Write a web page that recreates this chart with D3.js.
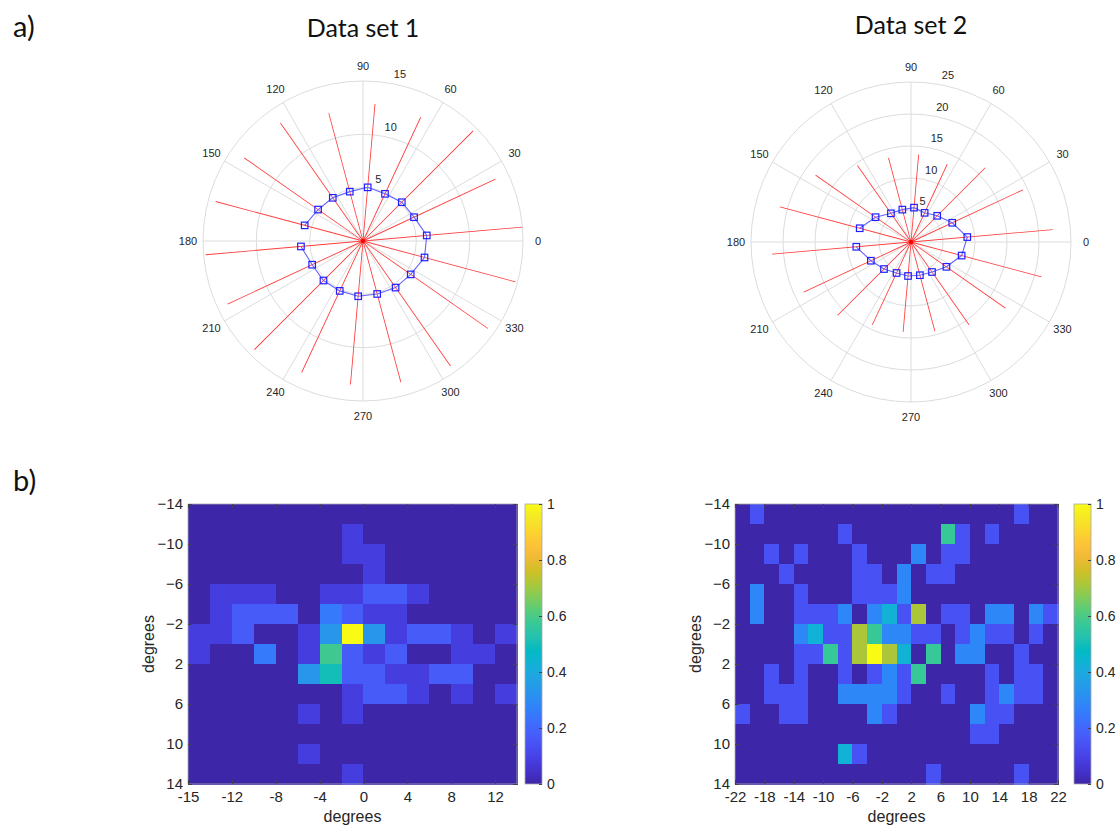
<!DOCTYPE html>
<html>
<head>
<meta charset="utf-8">
<script src="https://cdn.jsdelivr.net/npm/d3@7"></script>
<style>
body { margin: 0; background: #fff; }
text { font-family: "Liberation Sans", Arial, sans-serif; fill: #262626; }
.big { font-family: Lato, "Open Sans", sans-serif; fill: #111; }
</style>
</head>
<body>
<svg id="chart" width="1119" height="827"></svg>
<script>
// ---- polar data (angle in degrees, starting at 185 so the gap sits between 165 and 185)
var polarAngles = [185, 205, 225, 245, 265, 285, 305, 325, 345, 5, 25, 45, 65, 85, 105, 125, 145, 165];
var red1  = [14.8, 14.0, 14.4, 13.6, 13.5, 13.7, 14.3, 14.3, 14.8, 15.0, 13.7, 14.6, 12.8, 12.9, 12.4, 13.5, 13.6, 14.3];
var blue1 = [5.84, 5.26, 5.24, 5.16, 5.20, 5.14, 5.33, 5.46, 5.97, 6.00, 5.28, 5.14, 4.88, 5.05, 4.79, 4.94, 5.14, 5.66];
var red2  = [21.8, 18.5, 16.2, 14.3, 14.1, 14.4, 15.8, 18.0, 21.1, 22.2, 19.3, 16.4, 13.4, 13.7, 13.6, 14.6, 18.2, 21.2];
var blue2 = [8.58, 6.92, 5.97, 5.34, 5.33, 5.37, 5.72, 6.76, 8.19, 8.83, 7.11, 5.79, 5.03, 5.39, 5.24, 5.47, 6.76, 8.30];
var thetaTicks = [0, 30, 60, 90, 120, 150, 180, 210, 240, 270, 300, 330];
var rTicks1 = [5, 10, 15];
var rTicks2 = [5, 10, 15, 20, 25];

// ---- heat map data (counts, rows from top y=-14 downwards, 2 degree bins)
var heat1 = [
  [0,0,0,0,0,0,0,0,0,0,0,0,0,0,0],
  [0,0,0,0,0,0,0,1,0,0,0,0,0,0,0],
  [0,0,0,0,0,0,0,1,1,0,0,0,0,0,0],
  [0,0,0,0,0,0,0,0,1,0,0,0,0,0,0],
  [0,1,1,1,0,0,1,1,2,2,1,0,0,0,0],
  [0,1,2,2,2,0,3,2,1,1,0,0,0,0,0],
  [1,1,2,0,0,1,4,12,4,1,2,2,1,0,1],
  [1,0,0,3,0,1,7,2,1,2,0,0,1,1,0],
  [0,0,0,0,0,4,6,2,2,1,1,2,2,0,0],
  [0,0,0,0,0,0,0,1,2,2,1,0,1,0,1],
  [0,0,0,0,0,1,0,1,0,0,0,0,0,0,0],
  [0,0,0,0,0,0,0,0,0,0,0,0,0,0,0],
  [0,0,0,0,0,1,0,0,0,0,0,0,0,0,0],
  [0,0,0,0,0,0,0,1,0,0,0,0,0,0,0]
];
var heat2 = [
  [0,1,0,0,0,0,0,0,0,0,0,0,0,0,0,0,0,0,0,1,0,0],
  [0,0,0,0,0,0,0,1,0,0,0,0,0,0,4,1,0,1,0,0,0,0],
  [0,0,1,0,1,0,0,0,1,0,0,0,2,0,1,1,0,0,0,0,0,0],
  [0,0,0,1,0,0,0,0,1,1,0,2,0,1,1,0,0,0,0,0,0,0],
  [0,2,0,0,1,0,0,0,1,1,1,2,0,0,0,0,0,0,0,0,0,0],
  [0,2,0,0,1,1,1,2,0,2,3,1,5,0,1,1,0,2,2,0,2,1],
  [0,0,0,0,2,3,1,1,5,4,2,2,1,1,0,1,2,1,1,0,1,0],
  [0,0,0,0,1,1,4,1,5,7,5,3,0,4,0,2,2,0,0,1,0,0],
  [0,0,1,0,1,0,0,1,0,1,2,1,4,0,0,0,0,1,0,1,1,0],
  [0,0,1,1,1,0,0,2,2,2,2,1,0,0,1,0,0,1,2,1,1,0],
  [1,0,0,1,1,0,0,0,0,2,1,0,0,0,0,0,2,1,1,0,0,0],
  [0,0,0,0,0,0,0,0,0,0,0,0,0,0,0,0,1,1,0,0,0,0],
  [0,0,0,0,0,0,0,3,1,0,0,0,0,0,0,0,0,0,0,0,0,0],
  [0,0,0,0,0,0,0,0,0,0,0,0,0,1,0,0,0,0,0,1,0,0]
];
var xTickLabels1 = ["-15", "-12", "-8", "-4", "0", "4", "8", "12"];   // placed on bin edges 0,2,..,14
var xTicks2 = [-22, -18, -14, -10, -6, -2, 2, 6, 10, 14, 18, 22];
var yTicks = [-14, -10, -6, -2, 2, 6, 10, 14];
var cbTicks = [0, 0.2, 0.4, 0.6, 0.8, 1];

// parula (every 3rd entry of the 64 colour table)
var parula = ["#3e26a8","#4432cb","#4741e5","#4852f4","#4563fd","#3875fe","#2e87f7","#2796eb",
              "#20a5e3","#12b1d6","#02bac3","#24c1ae","#37c897","#57cc7a","#81cc59","#abc739",
              "#d1bf27","#f0ba36","#fec338","#fad62d","#f5e924","#f9fb15"];
var colour = d3.scaleLinear()
    .domain(parula.map(function(d, i) { return i / (parula.length - 1); }))
    .range(parula);

var svg = d3.select("#chart");
var defs = svg.append("defs");

// panel letters
svg.append("text").attr("class", "big").attr("x", 13).attr("y", 37).style("font-size", "29px").text("a)");
svg.append("text").attr("class", "big").attr("x", 13).attr("y", 491).style("font-size", "29px").text("b)");

function drawPolar(cx, cy, rMax, rTicks, redLen, blueLen, title, titleY)
{
    var R = 160;
    var r = d3.scaleLinear().domain([0, rMax]).range([0, R]);
    var rad = function(a) { return a * Math.PI / 180; };
    var px = function(a, v) { return cx + r(v) * Math.cos(rad(a)); };
    var py = function(a, v) { return cy - r(v) * Math.sin(rad(a)); };

    svg.append("text").attr("class", "big")
        .attr("x", cx).attr("y", titleY)
        .attr("text-anchor", "middle")
        .style("font-size", "25px")
        .text(title);

    var g = svg.append("g");

    g.selectAll("circle.ring").data(rTicks).enter().append("circle")
        .attr("class", "ring")
        .attr("cx", cx).attr("cy", cy)
        .attr("r", function(d) { return r(d); })
        .attr("fill", "none")
        .attr("stroke", "#dcdcdc")
        .attr("stroke-width", 1);

    g.selectAll("line.spoke").data(thetaTicks).enter().append("line")
        .attr("class", "spoke")
        .attr("x1", cx).attr("y1", cy)
        .attr("x2", function(d) { return px(d, rMax); })
        .attr("y2", function(d) { return py(d, rMax); })
        .attr("stroke", "#dcdcdc")
        .attr("stroke-width", 1);

    g.selectAll("text.tlab").data(thetaTicks).enter().append("text")
        .attr("class", "tlab")
        .attr("x", function(d) { return cx + (R + 15) * Math.cos(rad(d)); })
        .attr("y", function(d) { return cy - (R + 15) * Math.sin(rad(d)); })
        .attr("dy", "0.35em")
        .attr("text-anchor", "middle")
        .style("font-size", "11px")
        .text(function(d) { return d; });

    g.selectAll("text.rlab").data(rTicks).enter().append("text")
        .attr("class", "rlab")
        .attr("x", function(d) { return px(80, d) + 3; })
        .attr("y", function(d) { return py(80, d) - 5; })
        .style("font-size", "11px")
        .text(function(d) { return d; });

    // red rays from the origin, drawn as thin filled quads
    // (stroked diagonals came out black in the renderer)
    g.selectAll("polygon.ray").data(polarAngles).enter().append("polygon")
        .attr("class", "ray")
        .attr("points", function(a, i) {
            var nx = 0.42 * Math.sin(rad(a)), ny = 0.42 * Math.cos(rad(a));
            var ex = px(a, redLen[i]), ey = py(a, redLen[i]);
            return [[cx + nx, cy + ny], [ex + nx, ey + ny], [ex - nx, ey - ny], [cx - nx, cy - ny]]
                .map(function(p) { return p[0].toFixed(2) + "," + p[1].toFixed(2); }).join(" ");
        })
        .attr("fill", "#ff3b3b")
        .attr("stroke", "none");

    g.append("circle").attr("cx", cx).attr("cy", cy).attr("r", 2.2).attr("fill", "#ff0000");

    var line = d3.line()
        .x(function(d, i) { return px(polarAngles[i], d); })
        .y(function(d, i) { return py(polarAngles[i], d); });

    g.append("path").datum(blueLen)
        .attr("d", line)
        .attr("fill", "none")
        .attr("stroke", "#6464ff")
        .attr("stroke-width", 1.1);

    g.selectAll("rect.mk").data(blueLen).enter().append("rect")
        .attr("class", "mk")
        .attr("x", function(d, i) { return px(polarAngles[i], d) - 3.25; })
        .attr("y", function(d, i) { return py(polarAngles[i], d) - 3.25; })
        .attr("width", 6.5).attr("height", 6.5)
        .attr("fill", "none")
        .attr("stroke", "#1f1fff")
        .attr("stroke-width", 1.2);
}

drawPolar(363, 241, 15, rTicks1, red1, blue1, "Data set 1", 37);
drawPolar(911, 242, 25, rTicks2, red2, blue2, "Data set 2", 34);

function drawHeat(left, right, counts, xScale, cellX, cellW, xTickVals, xTickFmt, cbLeft, gradId)
{
    var top = 504, bottom = 784;
    var maxC = d3.max(counts, function(row) { return d3.max(row); });
    var y = d3.scaleLinear().domain([-14, 14]).range([top, bottom]);
    var g = svg.append("g");

    var cells = g.append("g").attr("shape-rendering", "crispEdges");
    counts.forEach(function(row, ri) {
        cells.selectAll(null).data(row).enter().append("rect")
            .attr("x", function(d, ci) { return cellX(ci); })
            .attr("y", y(-14 + 2 * ri))
            .attr("width", cellW + 0.6)
            .attr("height", y(2) - y(0) + 0.6)
            .attr("fill", function(d) { return colour(d / maxC); });
    });

    g.append("rect")
        .attr("x", left).attr("y", top)
        .attr("width", right - left).attr("height", bottom - top)
        .attr("fill", "none").attr("stroke", "#a8a8b0").attr("stroke-width", 0.8);

    var styleAxis = function(sel, noText) {
        sel.select(".domain").remove();
        sel.selectAll("line").attr("stroke", "#444");
        sel.selectAll("text").style("font-size", "15px").attr("fill", "#262626");
        if (noText) sel.selectAll("text").remove();
    };

    g.append("g").attr("transform", "translate(0," + bottom + ")")
        .call(d3.axisBottom(xScale).tickValues(xTickVals).tickFormat(xTickFmt).tickSizeInner(-4).tickSizeOuter(0).tickPadding(7))
        .call(styleAxis, false);
    g.append("g").attr("transform", "translate(0," + top + ")")
        .call(d3.axisTop(xScale).tickValues(xTickVals).tickSizeInner(-4).tickSizeOuter(0))
        .call(styleAxis, true);
    g.append("g").attr("transform", "translate(" + left + ",0)")
        .call(d3.axisLeft(y).tickValues(yTicks).tickSizeInner(-4).tickSizeOuter(0).tickPadding(5))
        .call(styleAxis, false);
    g.append("g").attr("transform", "translate(" + right + ",0)")
        .call(d3.axisRight(y).tickValues(yTicks).tickSizeInner(-4).tickSizeOuter(0))
        .call(styleAxis, true);

    g.append("text")
        .attr("x", (left + right) / 2).attr("y", 822)
        .attr("text-anchor", "middle")
        .style("font-size", "16px")
        .text("degrees");
    g.append("text")
        .attr("transform", "translate(" + (left - 34) + "," + ((top + bottom) / 2) + ") rotate(-90)")
        .attr("text-anchor", "middle")
        .style("font-size", "16px")
        .text("degrees");

    // colour bar
    var grad = defs.append("linearGradient")
        .attr("id", gradId).attr("x1", 0).attr("y1", 1).attr("x2", 0).attr("y2", 0);
    grad.selectAll("stop").data(parula).enter().append("stop")
        .attr("offset", function(d, i) { return i / (parula.length - 1); })
        .attr("stop-color", function(d) { return d; });
    var cbW = 17;
    g.append("rect")
        .attr("x", cbLeft).attr("y", top)
        .attr("width", cbW).attr("height", bottom - top)
        .attr("fill", "url(#" + gradId + ")")
        .attr("stroke", "#a8a8b0").attr("stroke-width", 0.8);
    var cy = d3.scaleLinear().domain([0, 1]).range([bottom, top]);
    g.append("g").attr("transform", "translate(" + (cbLeft + cbW) + ",0)")
        .call(d3.axisRight(cy).tickValues(cbTicks).tickFormat(d3.format("~g")).tickSizeInner(-3).tickSizeOuter(0).tickPadding(5))
        .call(function(sel) {
            sel.select(".domain").remove();
            sel.selectAll("line").attr("stroke", "#444");
            sel.selectAll("text").style("font-size", "14px").attr("fill", "#262626");
        });
}

// heat map 1: 15 bins, ticks on bin edges
var xIdx1 = d3.scaleLinear().domain([0, heat1[0].length]).range([188, 517]);
drawHeat(188, 517, heat1, xIdx1,
    function(ci) { return xIdx1(ci); }, xIdx1(1) - xIdx1(0),
    [0, 2, 4, 6, 8, 10, 12, 14], function(d, i) { return xTickLabels1[i]; },
    525, "cb1");

// heat map 2: 22 bins from -22 to 22
var x2 = d3.scaleLinear().domain([-22, 22]).range([735, 1058]);
drawHeat(735, 1058, heat2, x2,
    function(ci) { return x2(-22 + 2 * ci); }, x2(2) - x2(0),
    xTicks2, function(d) { return d; },
    1074, "cb2");
</script>
</body>
</html>
